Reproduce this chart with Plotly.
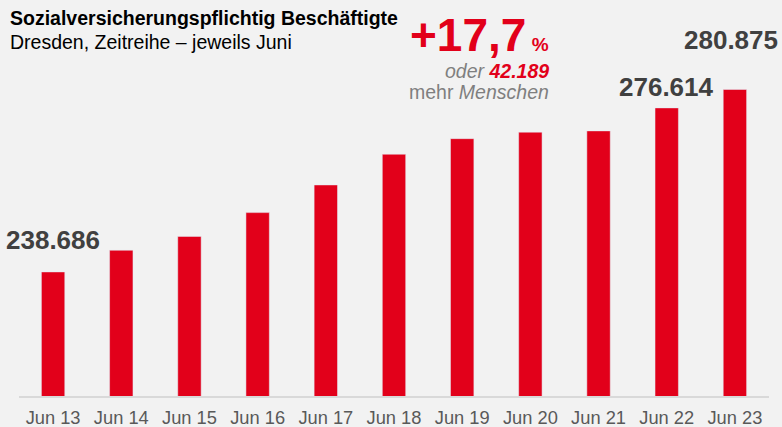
import plotly.graph_objects as go

years = ["Jun 13", "Jun 14", "Jun 15", "Jun 16", "Jun 17", "Jun 18",
         "Jun 19", "Jun 20", "Jun 21", "Jun 22", "Jun 23"]
employees = [238686, 243700, 246900, 252400, 258800, 265900,
             269500, 271000, 271300, 276614, 280875]
labelled = [0, 9, 10]  # bars with a value label

RED = "#E2001A"
GREY = "#7F7F7F"
DARK = "#404040"
FONT = "Liberation Sans, Arial, sans-serif"


def de(n):
    return f"{n:,}".replace(",", ".")


growth = (employees[-1] / employees[0] - 1) * 100
diff = employees[-1] - employees[0]

fig = go.Figure(go.Bar(
    x=years,
    y=employees,
    marker=dict(color=RED),
    hoverinfo="x+y",
))

# value labels above selected bars
label_shift = {0: (0, 32), 9: (0, 21), 10: (-4, 49)}
for i in labelled:
    dx, dy = label_shift[i]
    fig.add_annotation(x=years[i], y=employees[i], text=f"<b>{de(employees[i])}</b>",
                       showarrow=False, yanchor="middle", xshift=dx, yshift=dy,
                       font=dict(size=26, color=DARK, family=FONT))

# header texts (paper coords, plot area = 19..769 px wide, 50..396 px high)
def px(x):
    return (x - 19) / 750


def py(y):
    return (396 - y) / 346


fig.add_annotation(xref="paper", yref="paper", x=px(8), y=py(17.5),
                   xanchor="left", yanchor="middle", showarrow=False,
                   text="<b>Sozialversicherungspflichtig Beschäftigte</b>",
                   font=dict(size=19.5, color="#000000", family=FONT))
fig.add_annotation(xref="paper", yref="paper", x=px(8), y=py(42),
                   xanchor="left", yanchor="middle", showarrow=False,
                   text="Dresden, Zeitreihe – jeweils Juni",
                   font=dict(size=19.5, color="#000000", family=FONT))
fig.add_annotation(xref="paper", yref="paper", x=px(551), y=py(35),
                   xanchor="right", yanchor="middle", showarrow=False,
                   text=f"<b>+{growth:.1f}".replace(".", ",")
                        + "<span style='font-size:19px'> %</span></b>",
                   font=dict(size=46, color=RED, family=FONT))
fig.add_annotation(xref="paper", yref="paper", x=px(551), y=py(71),
                   xanchor="right", yanchor="middle", showarrow=False,
                   text=f"<i>oder <span style='color:{RED}'><b>{de(diff)}</b></span></i>",
                   font=dict(size=19.5, color=GREY, family=FONT))
fig.add_annotation(xref="paper", yref="paper", x=px(551), y=py(92.5),
                   xanchor="right", yanchor="middle", showarrow=False,
                   text="mehr <i>Menschen</i>",
                   font=dict(size=19.5, color=GREY, family=FONT))

fig.update_layout(
    width=782, height=427,
    margin=dict(l=19, r=13, t=50, b=31),
    paper_bgcolor="#F2F2F2",
    plot_bgcolor="#F2F2F2",
    bargap=0.657,
    showlegend=False,
    font=dict(family=FONT),
)
fig.update_xaxes(showline=True, linecolor="#D9D9D9", linewidth=2,
                 showgrid=False, ticks="", automargin=False, ticklabelstandoff=4,
                 range=[-0.5, len(years) - 0.5],
                 tickfont=dict(size=18.3, color="#595959", family=FONT))
fig.update_yaxes(range=[210000, 290000], visible=False, showgrid=False,
                 automargin=False)

# page margin off so the figure fills the window
fig.write_html("out.html", config={"displayModeBar": False},
               post_script="document.body.style.margin = '0';")
